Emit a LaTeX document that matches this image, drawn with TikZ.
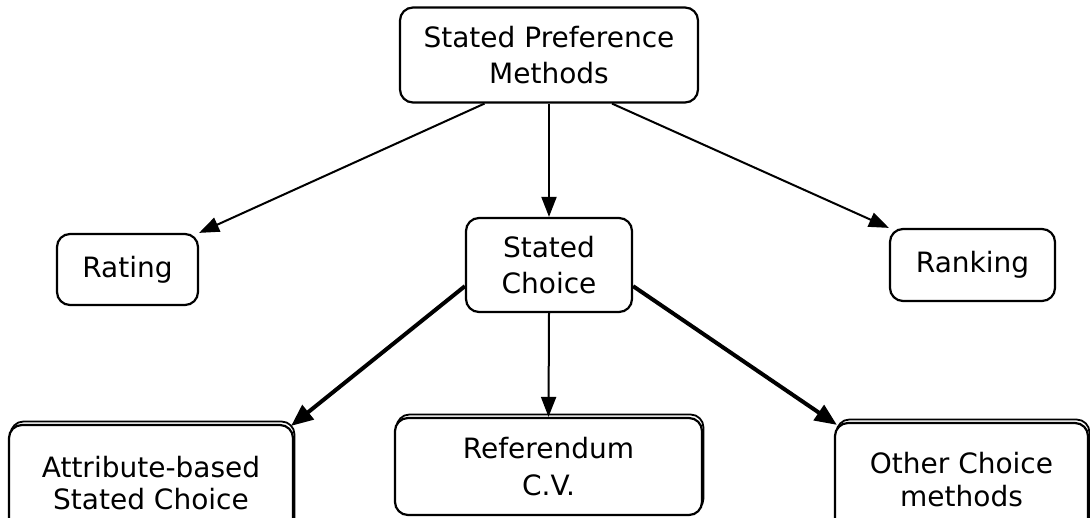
\documentclass[tikz,border=0pt]{standalone}
\usepackage{fontspec}
\setmainfont{DejaVu Sans}
\usetikzlibrary{arrows.meta,shadows,calc}
\begin{document}
\begin{tikzpicture}[x=1pt,y=-1pt,
  box/.style={draw=black,line width=2.2pt,rounded corners=13pt,fill=white,align=center,
    inner sep=0pt,font=\fontsize{28}{36}\selectfont},
  dbox/.style={box,copy shadow={shadow xshift=1.5pt,shadow yshift=3.5pt,draw=black,line width=1.8pt,fill=white}},
  thin/.style={line width=2pt,-{Triangle[length=20pt,width=15pt]}},
  thick/.style={line width=4pt,-{Triangle[length=22pt,width=18pt]}}]
\useasboundingbox (0,0) rectangle (1090,518);
\clip (0,0) rectangle (1090,518);
\fill[white] (0,0) rectangle (1090,518);
\node[box,minimum width=298pt,minimum height=95pt] (top) at (549,55) {Stated Preference\\Methods};
\node[box,minimum width=141pt,minimum height=71pt] (rat) at (127.5,269.5) {Rating};
\node[box,minimum width=166pt,minimum height=94pt] (sc) at (549,265) {Stated\\Choice};
\node[box,minimum width=165pt,minimum height=72pt] (rank) at (972.5,265) {Ranking};
\node[dbox,minimum width=284pt,minimum height=116pt,font=\fontsize{28}{32}\selectfont] (attr) at (151,483) {Attribute-based\\Stated Choice};
\node[dbox,minimum width=307pt,minimum height=97pt,font=\fontsize{28}{37}\selectfont] (ref) at (548.5,466.5) {Referendum\\C.V.};
\node[dbox,minimum width=253pt,minimum height=114pt,font=\fontsize{28}{33}\selectfont] (oth) at (961.5,480) {Other Choice\\methods};
\draw[thin] ($(top.south west)!0.285!(top.south east)$) -- (rat.north east);
\draw[thin] (top.south) -- (sc.north);
\draw[thin] ($(top.south west)!0.71!(top.south east)$) -- (rank.north west);
\draw[thick] ($(sc.north west)!0.72!(sc.south west)$) -- ($(attr.north east)+(-3,2)$);
\draw[thin] (sc.south) -- (ref.north);
\draw[thick] ($(sc.north east)!0.72!(sc.south east)$) -- ($(oth.north west)+(3,3)$);
\end{tikzpicture}
\end{document}
